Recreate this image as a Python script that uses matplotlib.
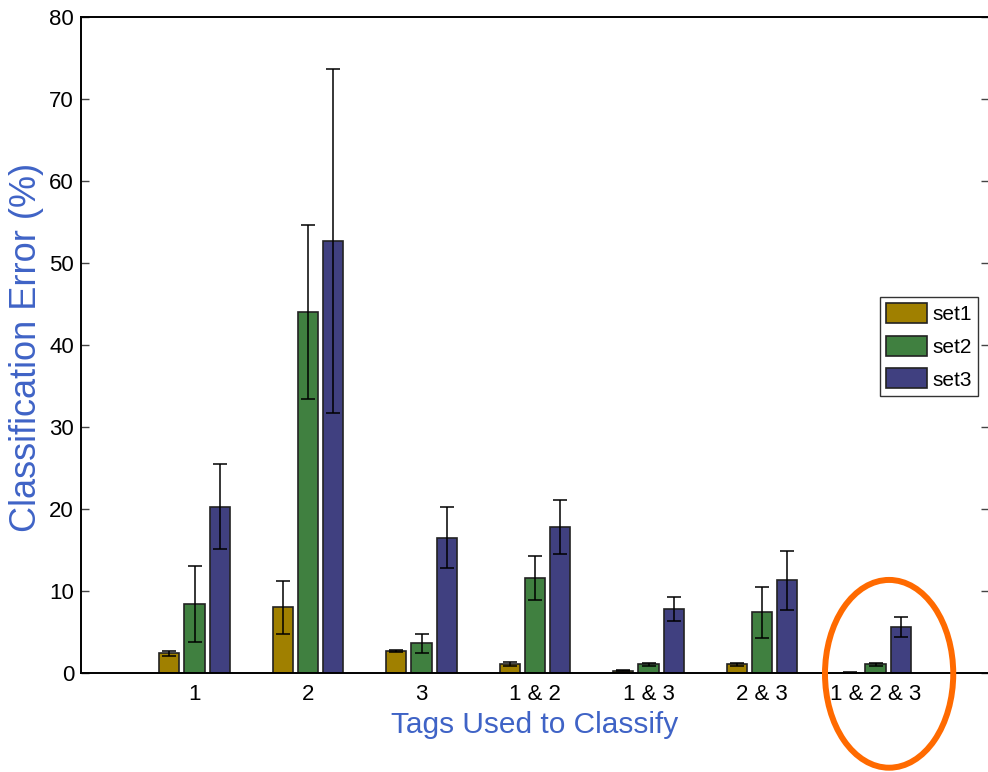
import numpy as np
import matplotlib
matplotlib.use("Agg")
import matplotlib.pyplot as plt
from matplotlib.patches import Ellipse

groups = ["1", "2", "3", "1 & 2", "1 & 3", "2 & 3", "1 & 2 & 3"]
set1 = [2.4, 8.0, 2.7, 1.05, 0.3, 1.05, 0.05]
set2 = [8.4, 44.0, 3.6, 11.6, 1.05, 7.4, 1.05]
set3 = [20.3, 52.7, 16.5, 17.8, 7.8, 11.3, 5.6]
err1 = [0.3, 3.2, 0.15, 0.25, 0.1, 0.15, 0.05]
err2 = [4.6, 10.6, 1.2, 2.65, 0.15, 3.1, 0.15]
err3 = [5.2, 21.0, 3.7, 3.3, 1.45, 3.6, 1.2]

colors = ["#a08000", "#408040", "#404080"]
label_blue = "#3f63c6"

plt.rcParams["font.family"] = ["Liberation Sans", "DejaVu Sans"]

fig = plt.figure(figsize=(9.88, 7.72), dpi=100)
ax = fig.add_axes([81 / 988, 1 - 673 / 772, 908 / 988, 656 / 772])

x = np.arange(1, len(groups) + 1)
step = 0.2222
width = step * 0.8
for i, (vals, errs, c, name) in enumerate(zip([set1, set2, set3], [err1, err2, err3], colors, ["set1", "set2", "set3"])):
    pos = x + (i - 1) * step
    ax.bar(pos, vals, width, color=c, edgecolor="#222222", linewidth=1.2, label=name, zorder=2)
    ax.errorbar(pos, vals, yerr=errs, fmt="none", ecolor="black", elinewidth=1.1,
                capsize=5, capthick=1.1, zorder=3)

ax.set_xlim(0, 8)
ax.set_ylim(0, 80)
ax.set_yticks(np.arange(0, 81, 10))
ax.set_xticks(x)
ax.set_xticklabels(groups)
ax.tick_params(axis="y", direction="in", length=6, width=1, color="#444444",
               labelsize=16, pad=5, right=True)
ax.tick_params(axis="x", length=0, labelsize=16, pad=8)
for s in ax.spines.values():
    s.set_linewidth(1.4)
    s.set_color("black")

ax.set_xlabel("Tags Used to Classify", fontsize=21.5, color=label_blue)
ax.xaxis.set_label_coords(0.5, -0.058)
ax.set_ylabel("Classification Error (%)", fontsize=26, color=label_blue)
ax.yaxis.set_label_coords(-0.041, 0.497)

leg = ax.legend(loc="upper left", bbox_to_anchor=(0.880, 0.573), borderaxespad=0,
                fontsize=15, handlelength=1.95, handleheight=1.1, labelspacing=0.55,
                handletextpad=0.25, borderpad=0.3, fancybox=False, framealpha=1)
leg.get_frame().set_edgecolor("#333333")
leg.get_frame().set_linewidth(1.0)

# highlight around the last group
ax.add_patch(Ellipse((7.12, -0.1), 1.13, 22.9, fill=False, edgecolor="#ff6a00",
                     linewidth=4.3, clip_on=False, zorder=5))

fig.savefig("out.png", dpi=100)
